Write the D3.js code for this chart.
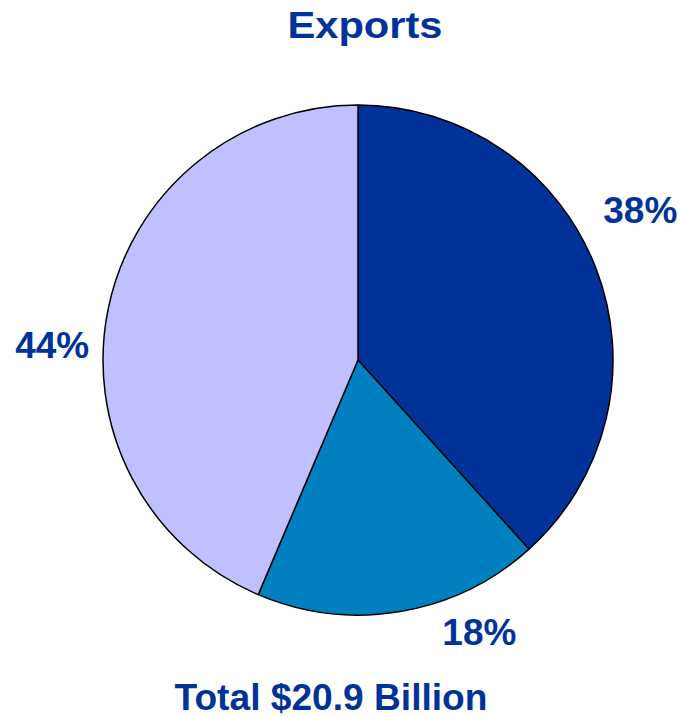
<!DOCTYPE html>
<html>
<head>
<meta charset="utf-8">
<script src="https://cdn.jsdelivr.net/npm/d3@7"></script>
<style>
  body { margin: 0; background: #fff; }
  text { font-family: "Liberation Sans", Arial, sans-serif; font-weight: bold; fill: #003399; }
</style>
</head>
<body>
<div id="chart"></div>
<script>
// chart data
const categories = ['Segment A', 'Segment B', 'Segment C'];
const shares = [38.3, 18.1, 43.6];      // percent of total, labelled rounded
const sliceColors = ['#003399', '#0080C0', '#C0C0FF'];
const title = 'Exports';
const footer = 'Total $20.9 Billion';

const width = 683, height = 717;
const cx = 358, cy = 360, radius = 255;
// label offsets from the outer centroid, to follow the original placement
const labelNudge = [[-7, -39], [70, -34], [-2, 47]];

const svg = d3.select('#chart').append('svg')
    .attr('width', width)
    .attr('height', height);

const pie = d3.pie().sort(null).value(d => d.value);
const arc = d3.arc().innerRadius(0).outerRadius(radius);
const labelArc = d3.arc().innerRadius(310).outerRadius(310);

const data = pie(categories.map((c, i) => ({name: c, value: shares[i], color: sliceColors[i]})));

const g = svg.append('g').attr('transform', 'translate(' + cx + ',' + cy + ')');

g.selectAll('path')
    .data(data)
    .enter().append('path')
    .attr('d', arc)
    .attr('fill', d => d.data.color)
    .attr('stroke', '#000')
    .attr('stroke-width', 1.5)
    .attr('stroke-linejoin', 'round');

// the original type is a little wider than the font, so stretch it with textLength
g.selectAll('text.pct')
    .data(data)
    .enter().append('text')
    .attr('class', 'pct')
    .attr('x', (d, i) => labelArc.centroid(d)[0] + labelNudge[i][0])
    .attr('y', (d, i) => labelArc.centroid(d)[1] + labelNudge[i][1])
    .attr('dy', '0.36em')
    .attr('text-anchor', 'middle')
    .attr('textLength', 74)
    .attr('lengthAdjust', 'spacingAndGlyphs')
    .style('font-size', '36px')
    .text(d => Math.round(d.data.value) + '%');

svg.append('text')
    .attr('x', 365)
    .attr('y', 38)
    .attr('text-anchor', 'middle')
    .attr('textLength', 155)
    .attr('lengthAdjust', 'spacingAndGlyphs')
    .style('font-size', '37px')
    .text(title);

svg.append('text')
    .attr('x', 331)
    .attr('y', 710)
    .attr('text-anchor', 'middle')
    .attr('textLength', 313)
    .attr('lengthAdjust', 'spacingAndGlyphs')
    .style('font-size', '36px')
    .text(footer);
</script>
</body>
</html>
